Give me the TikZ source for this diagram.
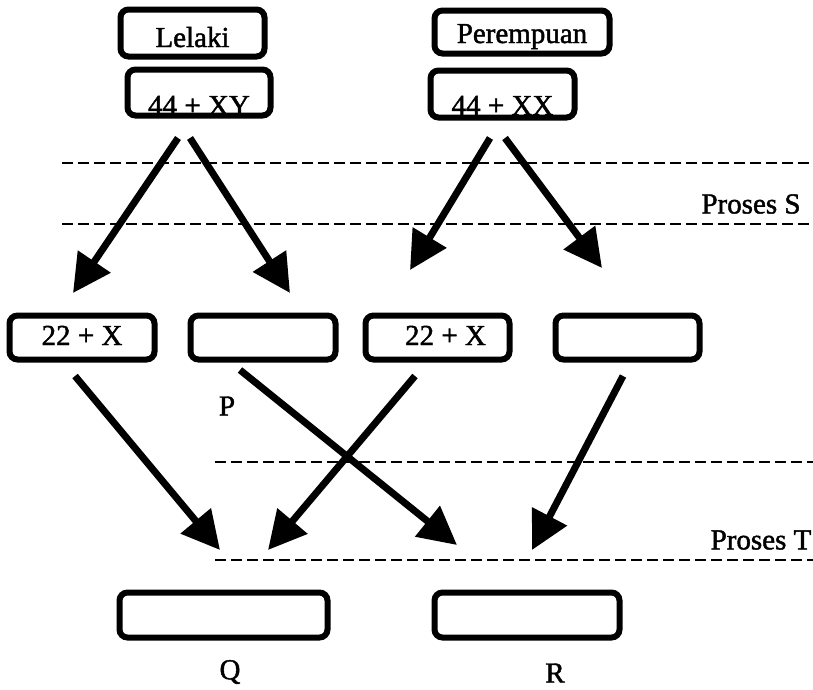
\documentclass[tikz,border=0pt]{standalone}
\usepackage{fontspec}
\setmainfont{Liberation Serif}
\newfontfamily\diagfont{Liberation Serif}[FakeBold=1.5]
\usetikzlibrary{arrows.meta, positioning}
\tikzset{%
	box/.style={draw, rectangle, rounded corners=8pt, line width=6pt, inner sep=0pt,%
		minimum width=144pt, minimum height=46pt, text height=15pt, text depth=0pt},
	arr/.style={-{Triangle[length=38pt, width=38pt]}, line width=7pt},
	cut/.style={dash pattern=on 11pt off 5pt, line width=2.6pt},
	tag/.style={inner sep=0pt}
}
\begin{document}
\begin{tikzpicture}[x=1pt, y=-1pt, font={\diagfont\fontsize{29}{34}\selectfont}]
	\useasboundingbox (0,0) rectangle (813,689);

	% parents
	\node[box, minimum height=47pt, text height=28pt] (lelaki) at (192.5,33) {Lelaki};
	\node[box, minimum width=143pt, text height=45pt] (xy) at (199,92.5) {44 + XY};
	\node[box, minimum width=175pt, minimum height=43pt, text height=22pt] (perempuan) at (522,32) {Perempuan};
	\node[box, minimum height=47pt, text height=42pt] (xx) at (502.5,94) {44 + XX};

	% gametes
	\node[box, minimum width=145pt, minimum height=44pt] (m1) at (82,337.5) {22 + X};
	\node[box, minimum width=145pt, minimum height=44pt] (m2) at (263,337.5) {};
	\node[box, minimum height=44pt] (m3) at (437.5,337.5) {\hspace*{16pt}22 + X};
	\node[box, minimum height=44pt] (m4) at (627.5,337.5) {};
	\node[tag] (p) at (227,406) {P};

	% offspring
	\node[box, minimum width=208pt, minimum height=45pt] (q) at (223.5,615) {};
	\node[box, minimum width=185pt, minimum height=45pt] (r) at (527,615) {};
	\node[tag] (ql) at (230,672) {Q};
	\node[tag] (rl) at (555,673) {R};

	% process bands
	\draw[cut] (62,163) -- (813,163);
	\draw[cut] (62,224) -- (813,224);
	\draw[cut] (215,462) -- (813,462);
	\draw[cut] (215,560) -- (813,560);
	\node[tag] (ps) at (751,204) {Proses S};
	\node[tag] (pt) at (761,540) {Proses T};

	\coordinate (t1) at (73,293);
	\coordinate (t2) at (290,293);
	\coordinate (t3) at (410,270);
	\coordinate (t4) at (602,268);
	\coordinate (u1) at (220,550);
	\coordinate (u2) at (268,550);
	\coordinate (u3) at (457,545);
	\coordinate (u4) at (532,550);

	\draw[arr] ([xshift=-21pt, yshift=-19.5pt]xy.south) -- (t1);
	\draw[arr] ([xshift=-9pt, yshift=-19.5pt]xy.south) -- (t2);
	\draw[arr] ([xshift=-12.5pt, yshift=-17.5pt]xx.south) -- (t3);
	\draw[arr] ([xshift=2.5pt, yshift=-17.5pt]xx.south) -- (t4);

	\draw[arr] ([xshift=-7pt, yshift=-13.5pt]m1.south) -- (u1);
	\draw[arr] ([xshift=-22.5pt, yshift=-13.5pt]m3.south) -- (u2);
	\draw[arr] ([xshift=-23pt, yshift=-7.5pt]m2.south) -- (u3);
	\draw[arr] ([xshift=-4.5pt, yshift=-13.5pt]m4.south) -- (u4);
\end{tikzpicture}
\end{document}
